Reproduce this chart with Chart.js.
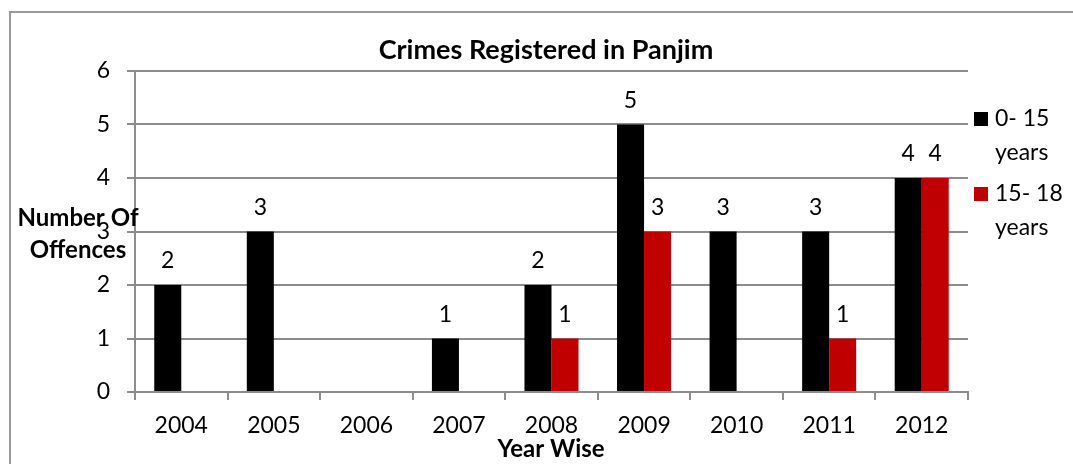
<!DOCTYPE html>
<html>
<head>
<meta charset="utf-8">
<title>Crimes Registered in Panjim</title>
<script src="https://cdn.jsdelivr.net/npm/chart.js@4.4.1/dist/chart.umd.min.js"></script>
<style>
  html, body { margin: 0; padding: 0; background: #ffffff; }
  #wrap { width: 1073px; height: 464px; position: relative; }
</style>
</head>
<body>
<div id="wrap"><canvas id="crimes" width="1073" height="464"></canvas></div>
<script>
// Offences registered per year, split by age group
const years = ['2004', '2005', '2006', '2007', '2008', '2009', '2010', '2011', '2012'];
const age0to15 = [2, 3, 0, 1, 2, 5, 3, 3, 4];
const age15to18 = [0, 0, 0, 0, 1, 3, 0, 1, 4];
const seriesLabels = [['0- 15', 'years'], ['15- 18', 'years']];
const seriesColors = ['#000000', '#C00000'];
const yTickValues = [0, 1, 2, 3, 4, 5, 6];

const chartTitle = 'Crimes Registered in Panjim';
const yTitle = ['Number Of', 'Offences'];
const xTitle = 'Year Wise';

const FONT = 'Lato, "Open Sans", sans-serif';
const GRID = '#8c8c8c';

const decorations = {
  id: 'decorations',
  afterDraw(chart) {
    const ctx = chart.ctx;
    ctx.save();

    // outer frame
    ctx.strokeStyle = '#9a9a9a';
    ctx.lineWidth = 2;
    ctx.strokeRect(10, 12, 1200, 600);

    // title
    ctx.fillStyle = '#000';
    ctx.textAlign = 'center';
    ctx.textBaseline = 'middle';
    ctx.font = 'bold 27px ' + FONT;
    ctx.fillText(chartTitle, 546, 50);

    // axis titles
    ctx.font = 'bold 24px ' + FONT;
    ctx.fillText(yTitle[0], 78, 218);
    ctx.fillText(yTitle[1], 78, 250);
    ctx.fillText(xTitle, 551, 449);

    // value labels above the bars
    ctx.font = '23px ' + FONT;
    ctx.textBaseline = 'alphabetic';
    chart.data.datasets.forEach((ds, di) => {
      const meta = chart.getDatasetMeta(di);
      meta.data.forEach((bar, i) => {
        const v = ds.data[i];
        if (!v) return;
        ctx.fillText(String(v), bar.x, bar.y - 17);
      });
    });

    // legend
    ctx.textAlign = 'left';
    ctx.textBaseline = 'middle';
    const legendTops = [112, 187];
    seriesLabels.forEach((lines, k) => {
      const top = legendTops[k];
      ctx.fillStyle = seriesColors[k];
      ctx.fillRect(974, top, 14, 14);
      ctx.fillStyle = '#000';
      lines.forEach((t, j) => ctx.fillText(t, 995, top + 7 + j * 34));
    });

    ctx.restore();
  }
};

new Chart(document.getElementById('crimes'), {
  type: 'bar',
  data: {
    labels: years,
    datasets: [
      { label: seriesLabels[0].join(' '), data: age0to15, backgroundColor: seriesColors[0] },
      { label: seriesLabels[1].join(' '), data: age15to18, backgroundColor: seriesColors[1] }
    ]
  },
  options: {
    responsive: false,
    animation: false,
    devicePixelRatio: 1,
    layout: { padding: { top: 71, right: 105, left: 0, bottom: 0 } },
    datasets: { bar: { categoryPercentage: 0.584, barPercentage: 1.0, borderWidth: 0 } },
    plugins: {
      legend: { display: false },
      title: { display: false },
      tooltip: { enabled: false }
    },
    scales: {
      x: {
        grid: { display: true, drawOnChartArea: false, drawTicks: true, tickLength: 8, color: GRID, lineWidth: 2, offset: true },
        border: { display: true, color: GRID, width: 2 },
        ticks: { color: '#000', font: { family: FONT, size: 23 }, padding: 12, maxRotation: 0 },
        afterFit(scale) { scale.height = 72; }
      },
      y: {
        min: 0,
        max: 6,
        afterBuildTicks(scale) { scale.ticks = yTickValues.map(v => ({ value: v })); },
        grid: { display: true, drawOnChartArea: true, drawTicks: true, tickLength: 8, color: GRID, lineWidth: 2 },
        border: { display: true, color: GRID, width: 2 },
        ticks: { color: '#000', font: { family: FONT, size: 23 }, padding: 17 },
        afterFit(scale) { scale.width = 135; }
      }
    }
  },
  plugins: [decorations]
});
</script>
</body>
</html>
